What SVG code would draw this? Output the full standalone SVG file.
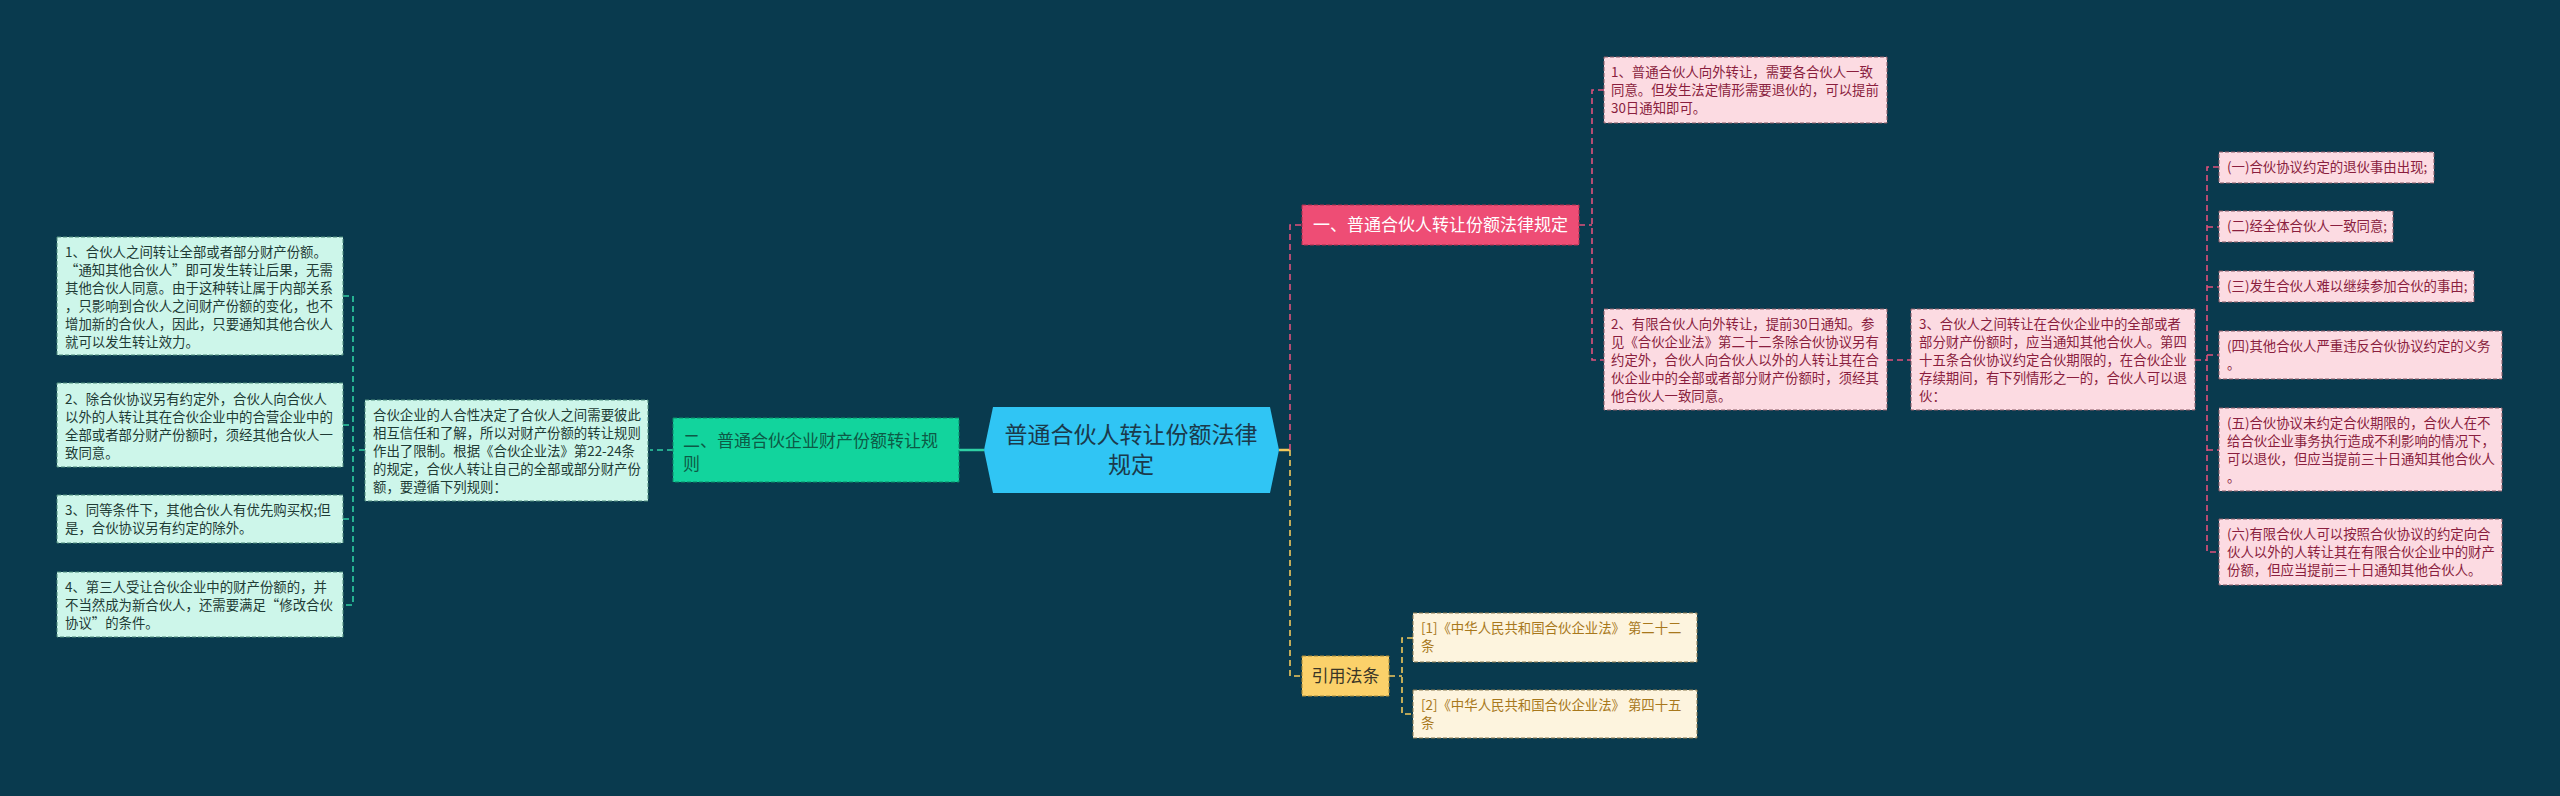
<svg xmlns="http://www.w3.org/2000/svg" width="2560" height="796" viewBox="0 0 2560 796">
<style>
text{font-family:"Noto Sans CJK SC","Liberation Sans",sans-serif;}
.leafG{fill:#cdf6ea;stroke:#4f8c7c;stroke-width:1;stroke-dasharray:4 2;}
.leafP{fill:#fcdbe2;stroke:#8a5a66;stroke-width:1;stroke-dasharray:4 2;}
.leafY{fill:#fdf4de;stroke:#8c7a50;stroke-width:1;stroke-dasharray:4 2;}
.tG{font-size:13.4px;fill:#1e3b35;}
.tP{font-size:13.4px;fill:#8a1e3e;}
.tY{font-size:13.4px;fill:#a8781c;}
.cG{fill:none;stroke:#2fd0a4;stroke-width:1.6;stroke-dasharray:6 4;}
.cP{fill:none;stroke:#e0517c;stroke-width:1.6;stroke-dasharray:6 4;}
.cY{fill:none;stroke:#f2c95c;stroke-width:1.6;stroke-dasharray:6 4;}
</style>
<rect x="0" y="0" width="2560" height="796" fill="#093a4e"/>
<g id="connectors">
<line x1="959" y1="450" x2="984" y2="450" stroke="#2fd0a4" stroke-width="2.5"/>
<line x1="1279" y1="450" x2="1290" y2="450" stroke="#f2c95c" stroke-width="2.5"/>
<path class="cP" d="M1290 450 V225 H1302"/>
<path class="cY" d="M1290 450 V676 H1302"/>
<path class="cG" d="M673 450 H650"/>
<path class="cG" d="M365 450 H353"/>
<path class="cG" d="M343 296 H353 V605 H343 M343 425 H353 M343 519 H353"/>
<path class="cP" d="M1579 225 H1592"/>
<path class="cP" d="M1604 90 H1592 V360 H1604"/>
<path class="cP" d="M1887 360 H1911"/>
<path class="cP" d="M2195 360 H2207"/>
<path class="cP" d="M2219 167 H2207 V552 H2219 M2207 227 H2219 M2207 287 H2219 M2207 355 H2219 M2207 450 H2219"/>
<path class="cY" d="M1389 676 H1402"/>
<path class="cY" d="M1413 638 H1402 V714 H1413"/>
</g>
<g id="center">
<polygon points="993,407 1270,407 1279,450 1270,493 993,493 984,450" fill="#30c5f4"/>
<text x="1131" y="443" font-size="23" fill="#1b3a4b" text-anchor="middle">普通合伙人转让份额法律</text>
<text x="1131" y="473" font-size="23" fill="#1b3a4b" text-anchor="middle">规定</text>
</g>
<g id="branch2">
<rect x="673" y="418" width="286" height="64" fill="#12d49d" stroke="#0b8c68" stroke-width="1" stroke-dasharray="4 2"/>
<text font-size="17" fill="#0d5a46"><tspan x="683" y="447">二、普通合伙企业财产份额转让规</tspan><tspan x="683" y="470">则</tspan></text>
</g>
<g id="b2-intro">
<rect class="leafG" x="365" y="400" width="283" height="101"/>
<text class="tG"><tspan x="373" y="419.7">合伙企业的人合性决定了合伙人之间需要彼此</tspan><tspan x="373" y="437.7">相互信任和了解，所以对财产份额的转让规则</tspan><tspan x="373" y="455.7">作出了限制。根据《合伙企业法》第22-24条</tspan><tspan x="373" y="473.7">的规定，合伙人转让自己的全部或部分财产份</tspan><tspan x="373" y="491.7">额，要遵循下列规则：</tspan></text>
</g>
<g id="b2-rule1">
<rect class="leafG" x="57" y="237" width="286" height="118"/>
<text class="tG"><tspan x="65" y="256.7">1、合伙人之间转让全部或者部分财产份额。</tspan><tspan x="65" y="274.7">“通知其他合伙人”即可发生转让后果，无需</tspan><tspan x="65" y="292.7">其他合伙人同意。由于这种转让属于内部关系</tspan><tspan x="65" y="310.7">，只影响到合伙人之间财产份额的变化，也不</tspan><tspan x="65" y="328.7">增加新的合伙人，因此，只要通知其他合伙人</tspan><tspan x="65" y="346.7">就可以发生转让效力。</tspan></text>
</g>
<g id="b2-rule2">
<rect class="leafG" x="57" y="383" width="286" height="84"/>
<text class="tG"><tspan x="65" y="403.7">2、除合伙协议另有约定外，合伙人向合伙人</tspan><tspan x="65" y="421.7">以外的人转让其在合伙企业中的合营企业中的</tspan><tspan x="65" y="439.7">全部或者部分财产份额时，须经其他合伙人一</tspan><tspan x="65" y="457.7">致同意。</tspan></text>
</g>
<g id="b2-rule3">
<rect class="leafG" x="57" y="495" width="286" height="48"/>
<text class="tG"><tspan x="65" y="514.7">3、同等条件下，其他合伙人有优先购买权;但</tspan><tspan x="65" y="532.7">是，合伙协议另有约定的除外。</tspan></text>
</g>
<g id="b2-rule4">
<rect class="leafG" x="57" y="572" width="286" height="65"/>
<text class="tG"><tspan x="65" y="592.2">4、第三人受让合伙企业中的财产份额的，并</tspan><tspan x="65" y="610.2">不当然成为新合伙人，还需要满足“修改合伙</tspan><tspan x="65" y="628.2">协议”的条件。</tspan></text>
</g>
<g id="branch1">
<rect x="1302" y="205" width="277" height="40" fill="#ee4d75" stroke="#a8304f" stroke-width="1" stroke-dasharray="4 2"/>
<text x="1440.5" y="231" font-size="17" fill="#ffffff" text-anchor="middle">一、普通合伙人转让份额法律规定</text>
</g>
<g id="b1-p1">
<rect class="leafP" x="1604" y="57" width="283" height="66"/>
<text class="tP"><tspan x="1611" y="76.7">1、普通合伙人向外转让，需要各合伙人一致</tspan><tspan x="1611" y="94.7">同意。但发生法定情形需要退伙的，可以提前</tspan><tspan x="1611" y="112.7">30日通知即可。</tspan></text>
</g>
<g id="b1-p2">
<rect class="leafP" x="1604" y="309" width="283" height="101"/>
<text class="tP"><tspan x="1611" y="328.7">2、有限合伙人向外转让，提前30日通知。参</tspan><tspan x="1611" y="346.7">见《合伙企业法》第二十二条除合伙协议另有</tspan><tspan x="1611" y="364.7">约定外，合伙人向合伙人以外的人转让其在合</tspan><tspan x="1611" y="382.7">伙企业中的全部或者部分财产份额时，须经其</tspan><tspan x="1611" y="400.7">他合伙人一致同意。</tspan></text>
</g>
<g id="b1-p3">
<rect class="leafP" x="1911" y="309" width="284" height="101"/>
<text class="tP"><tspan x="1919" y="328.7">3、合伙人之间转让在合伙企业中的全部或者</tspan><tspan x="1919" y="346.7">部分财产份额时，应当通知其他合伙人。第四</tspan><tspan x="1919" y="364.7">十五条合伙协议约定合伙期限的，在合伙企业</tspan><tspan x="1919" y="382.7">存续期间，有下列情形之一的，合伙人可以退</tspan><tspan x="1919" y="400.7">伙：</tspan></text>
</g>
<g id="q1">
<rect class="leafP" x="2219" y="152" width="215" height="31"/>
<text class="tP" x="2227" y="172.2">(一)合伙协议约定的退伙事由出现;</text>
</g>
<g id="q2">
<rect class="leafP" x="2219" y="211" width="174" height="31"/>
<text class="tP" x="2227" y="231.2">(二)经全体合伙人一致同意;</text>
</g>
<g id="q3">
<rect class="leafP" x="2219" y="271" width="255" height="31"/>
<text class="tP" x="2227" y="291.2">(三)发生合伙人难以继续参加合伙的事由;</text>
</g>
<g id="q4">
<rect class="leafP" x="2219" y="331" width="283" height="48"/>
<text class="tP"><tspan x="2227" y="350.7">(四)其他合伙人严重违反合伙协议约定的义务</tspan><tspan x="2227" y="368.7">。</tspan></text>
</g>
<g id="q5">
<rect class="leafP" x="2219" y="408" width="283" height="83"/>
<text class="tP"><tspan x="2227" y="427.7">(五)合伙协议未约定合伙期限的，合伙人在不</tspan><tspan x="2227" y="445.7">给合伙企业事务执行造成不利影响的情况下，</tspan><tspan x="2227" y="463.7">可以退伙，但应当提前三十日通知其他合伙人</tspan><tspan x="2227" y="481.7">。</tspan></text>
</g>
<g id="q6">
<rect class="leafP" x="2219" y="519" width="283" height="66"/>
<text class="tP"><tspan x="2227" y="538.7">(六)有限合伙人可以按照合伙协议的约定向合</tspan><tspan x="2227" y="556.7">伙人以外的人转让其在有限合伙企业中的财产</tspan><tspan x="2227" y="574.7">份额，但应当提前三十日通知其他合伙人。</tspan></text>
</g>
<g id="branch3">
<rect x="1302" y="656" width="87" height="40" fill="#fbd16a" stroke="#a88a3a" stroke-width="1" stroke-dasharray="4 2"/>
<text x="1345.5" y="682" font-size="17" fill="#3a3526" text-anchor="middle">引用法条</text>
</g>
<g id="y1">
<rect class="leafY" x="1413" y="613" width="284" height="49"/>
<text class="tY"><tspan x="1421" y="633">[1]《中华人民共和国合伙企业法》 第二十二</tspan><tspan x="1421" y="651">条</tspan></text>
</g>
<g id="y2">
<rect class="leafY" x="1413" y="690" width="284" height="48"/>
<text class="tY"><tspan x="1421" y="709.7">[2]《中华人民共和国合伙企业法》 第四十五</tspan><tspan x="1421" y="727.7">条</tspan></text>
</g>
</svg>
